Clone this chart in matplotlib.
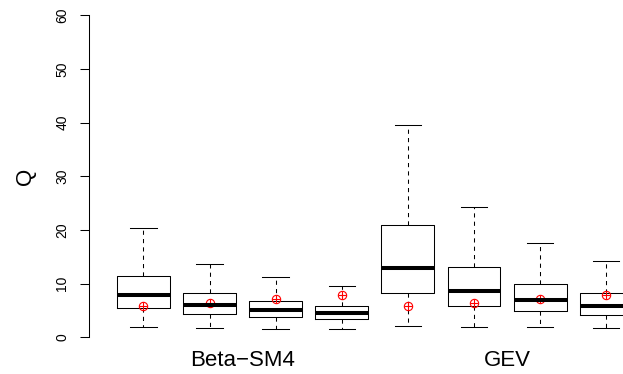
import matplotlib
matplotlib.use("Agg")
import matplotlib.pyplot as plt

plt.rcParams['font.family'] = ['Liberation Sans', 'DejaVu Sans']

# boxplot statistics, 4 per group
groups = ["Beta\u2212SM4", "GEV"]
whislo = [1.92, 1.73, 1.60, 1.55, 2.16, 1.98, 1.92, 1.79]
q1 = [5.46, 4.29, 3.78, 3.35, 8.20, 5.83, 4.84, 4.21]
med = [7.83, 5.96, 5.03, 4.47, 12.86, 8.57, 6.89, 5.78]
q3 = [11.42, 8.20, 6.76, 5.90, 20.98, 13.16, 9.99, 8.25]
whishi = [20.4, 13.6, 11.18, 9.5, 39.56, 24.22, 17.57, 14.27]
means = [5.78, 6.33, 7.20, 7.94, 5.78, 6.33, 7.20, 7.94]

positions = list(range(1, len(med) + 1))
stats = []
for i in range(len(med)):
    stats.append({"whislo": whislo[i], "q1": q1[i], "med": med[i],
                  "q3": q3[i], "whishi": whishi[i], "fliers": []})

fig = plt.figure(figsize=(6.23, 3.74), dpi=100)
ax = fig.add_axes([0.1433, 0.0636, 0.9167, 0.93])

ax.bxp(stats, positions=positions, widths=0.8, showfliers=False,
       boxprops=dict(color="black", linewidth=0.75),
       medianprops=dict(color="black", linewidth=2.9, solid_capstyle="butt"),
       whiskerprops=dict(color="black", linewidth=0.75, linestyle=(0, (4, 4))),
       capprops=dict(color="black", linewidth=0.75), capwidths=0.4)

ax.plot(positions, means, linestyle="none", marker="o", markersize=6,
        markerfacecolor="none", markeredgecolor="red", markeredgewidth=0.8)
ax.plot(positions, means, linestyle="none", marker="+", markersize=6,
        color="red", markeredgewidth=0.8)

ax.set_xlim(0.18, 8.82)
ax.set_ylim(-2.4, 62.4)
ax.set_yticks([0, 10, 20, 30, 40, 50, 60])
ax.set_yticklabels(["0", "10", "20", "30", "40", "50", "60"], rotation=90,
                   va="center", fontsize=10)
ax.tick_params(axis="y", length=6.5, width=0.75, pad=8)
ax.set_xticks([2.5, 6.5])
ax.set_xticklabels(groups, fontsize=16)
ax.tick_params(axis="x", length=0, pad=0)

for s in ["top", "right", "bottom"]:
    ax.spines[s].set_visible(False)
ax.spines["left"].set_bounds(0, 60)
ax.spines["left"].set_linewidth(0.75)

ax.set_ylabel("Q", fontsize=16, labelpad=14)

fig.savefig("out.png", dpi=100)
